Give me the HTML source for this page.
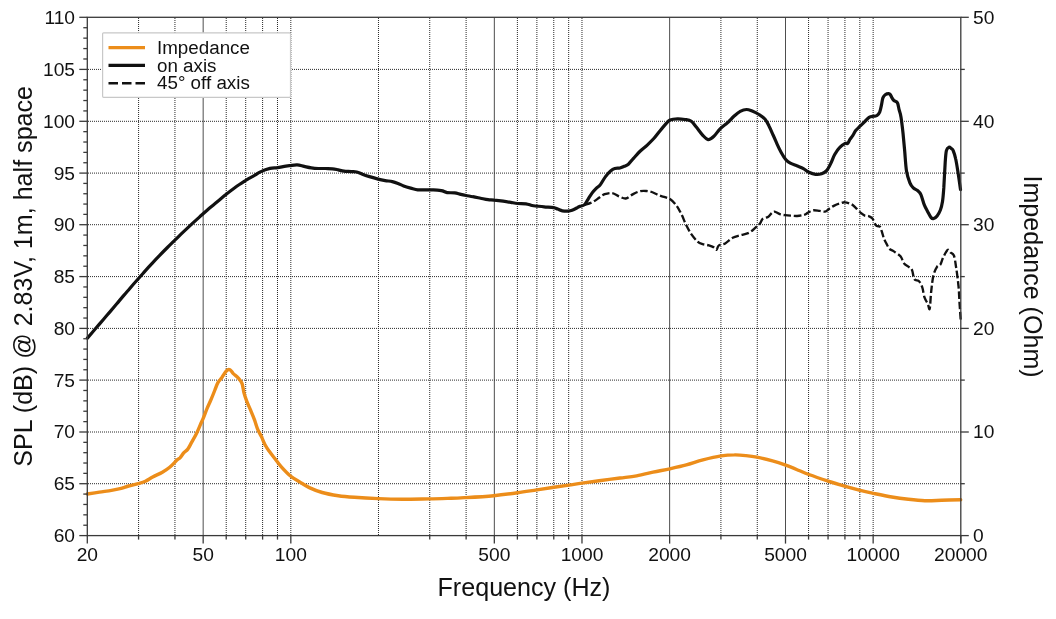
<!DOCTYPE html>
<html><head><meta charset="utf-8"><title>Frequency response</title>
<style>html,body{margin:0;padding:0;background:#fff;}svg{display:block;will-change:transform;}</style>
</head><body>
<svg width="1056" height="619" viewBox="0 0 1056 619" font-family='"Liberation Sans", Arial, Helvetica, sans-serif' fill="#111"><rect width="1056" height="619" fill="#fff"/><g stroke="#2a2a2a" stroke-width="1" stroke-dasharray="1 1"><line x1="138.57" y1="18" x2="138.57" y2="535.60"/><line x1="174.95" y1="18" x2="174.95" y2="535.60"/><line x1="203.17" y1="17.30" x2="203.17" y2="535.60" stroke="#4e4e4e" stroke-dasharray="none"/><line x1="226.22" y1="18" x2="226.22" y2="535.60"/><line x1="245.71" y1="18" x2="245.71" y2="535.60"/><line x1="262.60" y1="18" x2="262.60" y2="535.60"/><line x1="277.49" y1="18" x2="277.49" y2="535.60"/><line x1="290.82" y1="18" x2="290.82" y2="535.60"/><line x1="378.47" y1="18" x2="378.47" y2="535.60"/><line x1="429.74" y1="18" x2="429.74" y2="535.60"/><line x1="466.12" y1="18" x2="466.12" y2="535.60"/><line x1="494.33" y1="17.30" x2="494.33" y2="535.60" stroke="#4e4e4e" stroke-dasharray="none"/><line x1="517.39" y1="18" x2="517.39" y2="535.60"/><line x1="536.88" y1="18" x2="536.88" y2="535.60"/><line x1="553.77" y1="18" x2="553.77" y2="535.60"/><line x1="568.66" y1="18" x2="568.66" y2="535.60"/><line x1="581.98" y1="18" x2="581.98" y2="535.60"/><line x1="669.63" y1="17.30" x2="669.63" y2="535.60" stroke="#4e4e4e" stroke-dasharray="none"/><line x1="720.91" y1="18" x2="720.91" y2="535.60"/><line x1="757.28" y1="18" x2="757.28" y2="535.60"/><line x1="785.50" y1="17.30" x2="785.50" y2="535.60" stroke="#4e4e4e" stroke-dasharray="none"/><line x1="808.56" y1="18" x2="808.56" y2="535.60"/><line x1="828.05" y1="18" x2="828.05" y2="535.60"/><line x1="844.93" y1="18" x2="844.93" y2="535.60"/><line x1="859.83" y1="18" x2="859.83" y2="535.60"/><line x1="873.15" y1="18" x2="873.15" y2="535.60"/></g><g stroke="#2a2a2a" stroke-width="1" stroke-dasharray="1 1"><line x1="88" y1="483.70" x2="960.80" y2="483.70"/><line x1="88" y1="432.00" x2="960.80" y2="432.00"/><line x1="88" y1="380.10" x2="960.80" y2="380.10"/><line x1="88" y1="328.40" x2="960.80" y2="328.40"/><line x1="88" y1="276.60" x2="960.80" y2="276.60"/><line x1="88" y1="224.70" x2="960.80" y2="224.70"/><line x1="88" y1="173.10" x2="960.80" y2="173.10"/><line x1="88" y1="121.30" x2="960.80" y2="121.30"/><line x1="88" y1="69.40" x2="960.80" y2="69.40"/></g><path d="M87.3 494.0 C89.3 493.7 95.4 492.7 99.4 492.1 C103.4 491.5 107.9 491.0 111.5 490.4 C115.1 489.8 118.4 489.1 121.2 488.4 C124.0 487.7 125.7 486.8 128.5 486.0 C131.3 485.2 135.4 484.4 138.2 483.6 C141.0 482.8 143.0 482.3 145.4 481.2 C147.8 480.1 149.9 478.5 152.7 477.0 C155.5 475.5 159.6 473.8 162.4 472.2 C165.2 470.6 167.3 469.3 169.7 467.3 C172.1 465.3 175.2 461.7 176.9 460.1 C178.6 458.5 178.8 459.1 180.0 457.9 C181.2 456.6 182.6 454.1 183.9 452.6 C185.2 451.1 186.5 450.8 187.8 449.1 C189.1 447.4 190.2 445.0 191.6 442.4 C193.0 439.8 195.1 436.5 196.5 433.6 C197.9 430.7 199.2 427.5 200.3 424.9 C201.4 422.3 202.2 420.9 203.3 418.1 C204.4 415.4 205.8 411.5 207.1 408.4 C208.4 405.3 209.7 402.8 211.0 399.7 C212.3 396.6 213.8 392.8 214.9 390.0 C216.0 387.2 216.7 384.9 217.8 382.9 C218.9 380.9 220.2 379.8 221.7 377.8 C223.1 375.8 225.1 372.1 226.5 370.7 C227.9 369.3 228.9 369.2 230.0 369.7 C231.1 370.2 232.0 372.2 233.3 373.6 C234.7 375.0 236.7 376.2 238.1 377.8 C239.5 379.4 241.0 380.8 242.0 383.3 C243.0 385.8 243.2 389.8 244.0 392.9 C244.8 396.0 245.8 398.8 246.9 401.7 C248.0 404.6 249.4 407.3 250.7 410.4 C252.0 413.5 253.5 417.0 254.6 420.1 C255.7 423.2 256.4 426.1 257.5 428.8 C258.6 431.6 260.1 433.9 261.4 436.6 C262.7 439.4 264.0 442.9 265.3 445.3 C266.6 447.7 267.5 448.9 269.1 451.1 C270.7 453.4 273.0 456.2 275.0 458.8 C277.0 461.4 278.5 463.7 281.1 466.6 C283.7 469.5 287.7 473.8 290.8 476.3 C293.9 478.9 296.6 480.0 299.7 481.9 C302.8 483.8 305.6 485.8 309.3 487.6 C313.1 489.4 317.4 491.1 322.2 492.5 C327.0 493.9 332.9 494.9 338.3 495.7 C343.7 496.5 347.7 496.8 354.4 497.3 C361.1 497.8 370.4 498.3 378.5 498.6 C386.6 498.9 394.2 499.1 402.7 499.2 C411.2 499.2 421.3 499.0 429.4 498.9 C437.4 498.8 444.9 498.5 451.0 498.3 C457.1 498.1 458.7 498.0 465.8 497.6 C472.9 497.2 485.2 496.5 493.8 495.7 C502.4 494.9 510.4 493.8 517.6 492.8 C524.8 491.8 530.9 490.8 537.0 489.9 C543.1 489.0 548.7 488.1 554.0 487.3 C559.3 486.5 564.1 485.8 568.8 485.1 C573.5 484.4 577.0 483.8 582.0 483.1 C587.0 482.4 592.8 481.7 599.1 480.8 C605.4 479.9 613.8 478.8 620.0 478.0 C626.2 477.2 631.1 476.8 636.6 475.8 C642.1 474.8 647.6 473.4 653.1 472.2 C658.6 471.0 664.2 470.0 669.7 468.8 C675.2 467.6 680.8 466.4 686.3 464.9 C691.8 463.4 697.1 461.4 702.9 459.9 C708.7 458.4 715.9 456.7 721.1 455.9 C726.4 455.1 730.2 454.9 734.4 454.9 C738.5 454.8 742.2 455.2 746.0 455.6 C749.8 456.0 752.5 456.3 756.9 457.2 C761.3 458.1 767.7 459.6 772.5 460.9 C777.3 462.2 781.3 463.6 785.7 465.2 C790.1 466.8 795.1 468.9 799.0 470.5 C802.9 472.1 804.0 472.7 808.9 474.5 C813.8 476.3 822.1 479.1 828.2 481.1 C834.3 483.1 840.0 484.8 845.4 486.4 C850.8 487.9 855.6 489.2 860.3 490.4 C865.0 491.6 868.4 492.3 873.6 493.4 C878.9 494.5 886.0 496.0 891.8 497.0 C897.6 498.0 902.9 498.7 908.4 499.3 C913.9 499.9 919.4 500.5 924.9 500.7 C930.4 500.9 935.5 500.5 941.5 500.3 C947.5 500.1 957.5 499.8 960.7 499.7" fill="none" stroke="#ec8d1a" stroke-width="3.4" stroke-linejoin="round" stroke-linecap="round"/><path d="M584.3 204.9 C585.6 204.5 589.6 203.5 592.0 202.4 C594.4 201.3 596.6 199.5 598.7 198.1 C600.8 196.7 602.4 195.0 604.7 194.2 C607.0 193.4 609.9 192.7 612.3 193.1 C614.7 193.5 616.9 195.5 619.1 196.4 C621.4 197.3 623.5 198.8 625.8 198.5 C628.0 198.2 630.3 195.6 632.6 194.4 C634.9 193.2 637.1 192.0 639.4 191.4 C641.7 190.8 643.9 190.8 646.2 191.0 C648.5 191.2 650.8 191.7 653.0 192.5 C655.2 193.3 657.7 194.8 659.7 195.6 C661.7 196.4 663.3 196.6 665.0 197.2 C666.7 197.8 668.1 197.7 670.0 199.0 C671.9 200.3 674.4 202.8 676.3 205.3 C678.2 207.8 679.6 210.7 681.3 214.0 C683.0 217.3 684.6 222.0 686.3 225.3 C688.0 228.7 689.4 231.4 691.3 234.1 C693.2 236.8 695.7 239.9 697.6 241.6 C699.5 243.3 700.7 243.5 702.6 244.1 C704.5 244.7 707.0 244.8 708.9 245.4 C710.8 246.0 712.6 246.7 713.9 247.4 C715.1 248.2 715.6 250.2 716.4 249.9 C717.2 249.6 717.4 246.5 718.9 245.4 C720.4 244.3 722.9 244.7 725.2 243.4 C727.5 242.1 730.2 239.2 732.7 237.8 C735.2 236.5 737.5 236.1 740.2 235.3 C742.9 234.5 746.5 234.1 749.0 232.8 C751.5 231.6 753.4 229.4 755.2 227.8 C757.0 226.2 758.8 225.0 760.0 223.5 C761.2 222.0 761.4 220.0 762.7 218.9 C764.0 217.8 766.5 217.9 768.0 216.9 C769.5 215.9 770.8 213.8 771.9 212.9 C773.0 212.0 773.3 211.4 774.6 211.6 C775.9 211.8 778.1 213.6 779.9 214.2 C781.7 214.8 783.4 215.0 785.2 215.2 C787.0 215.4 788.5 215.5 790.5 215.6 C792.5 215.7 794.9 216.1 797.1 216.0 C799.3 215.9 802.0 215.4 803.8 214.9 C805.6 214.4 806.2 213.7 807.7 212.9 C809.2 212.1 811.0 210.6 813.0 210.3 C815.0 210.0 817.7 210.7 819.7 210.9 C821.7 211.1 823.5 211.9 825.0 211.6 C826.5 211.3 827.5 209.9 829.0 208.9 C830.5 207.9 832.5 206.5 834.3 205.6 C836.1 204.7 837.8 204.1 839.6 203.6 C841.4 203.1 842.9 202.2 844.9 202.3 C846.9 202.4 849.7 203.4 851.5 204.3 C853.3 205.2 854.0 206.2 855.5 207.6 C857.0 209.0 859.2 211.6 860.8 212.9 C862.3 214.2 863.5 215.1 864.8 215.6 C866.1 216.1 867.5 215.6 868.8 216.2 C870.1 216.8 871.5 217.3 872.7 218.9 C873.9 220.5 874.8 224.2 876.0 225.5 C877.2 226.8 879.0 225.7 880.0 226.8 C881.0 227.9 881.3 230.1 882.0 232.1 C882.7 234.1 883.2 236.8 884.0 238.8 C884.8 240.8 885.8 242.4 886.7 244.1 C887.6 245.8 888.1 247.5 889.3 248.7 C890.5 249.9 892.0 250.1 893.9 251.4 C895.8 252.7 898.8 254.3 900.5 256.3 C902.2 258.3 902.7 261.6 904.1 263.4 C905.5 265.1 907.4 265.7 908.7 266.8 C910.0 267.9 911.2 268.1 912.1 270.2 C913.0 272.3 913.2 277.4 914.3 279.2 C915.4 281.0 917.5 279.7 918.8 281.0 C920.1 282.3 921.2 284.4 922.2 287.1 C923.2 289.8 923.5 294.5 924.5 297.3 C925.5 300.1 927.0 302.2 927.9 304.1 C928.8 306.0 929.1 310.9 929.7 308.6 C930.3 306.3 930.6 296.1 931.3 290.5 C931.9 284.9 932.6 278.6 933.6 274.7 C934.6 270.8 935.9 268.5 937.0 266.8 C938.1 265.1 939.5 265.8 940.4 264.5 C941.3 263.2 941.7 260.9 942.6 258.8 C943.5 256.7 945.0 253.6 946.0 252.1 C947.0 250.6 947.5 249.7 948.3 249.8 C949.0 249.9 949.6 251.6 950.5 252.5 C951.4 253.4 952.9 252.9 953.9 255.5 C954.9 258.1 955.4 262.8 956.2 267.9 C957.0 273.0 957.9 280.0 958.5 286.0 C959.1 292.0 959.2 298.4 959.6 304.1 C960.0 309.8 960.5 317.4 960.7 320.0" fill="none" stroke="#111" stroke-width="2.35" stroke-dasharray="7.5 2.8" stroke-linejoin="round"/><path d="M87.4 338.1 C88.7 336.6 92.7 331.9 95.4 328.8 C98.1 325.7 100.7 322.6 103.4 319.5 C106.1 316.4 108.7 313.2 111.4 310.1 C114.1 307.0 116.7 303.8 119.4 300.6 C122.1 297.5 124.7 294.3 127.4 291.2 C130.1 288.1 132.7 285.0 135.4 282.0 C138.1 279.0 140.7 276.0 143.4 273.0 C146.1 270.0 148.7 267.1 151.4 264.2 C154.1 261.3 156.7 258.5 159.4 255.7 C162.1 252.9 164.7 250.2 167.4 247.5 C170.1 244.8 172.7 242.2 175.4 239.6 C178.1 237.0 180.7 234.4 183.4 231.9 C186.1 229.4 188.7 226.9 191.4 224.4 C194.1 221.9 196.7 219.5 199.4 217.1 C202.1 214.7 204.7 212.3 207.4 210.0 C210.1 207.7 212.7 205.4 215.4 203.2 C218.1 201.0 220.7 198.8 223.4 196.6 C226.1 194.4 228.7 192.3 231.4 190.3 C234.1 188.3 236.7 186.3 239.4 184.5 C242.1 182.7 245.6 180.4 247.4 179.3 C249.2 178.2 248.9 178.4 250.0 177.8 C251.1 177.2 252.3 176.6 254.1 175.6 C255.9 174.6 258.2 172.8 260.9 171.6 C263.5 170.4 267.2 169.1 270.0 168.4 C272.8 167.7 275.0 168.0 277.6 167.6 C280.2 167.2 283.8 166.4 285.9 166.1 C288.0 165.8 288.1 165.8 290.0 165.6 C291.9 165.4 294.7 164.8 297.1 164.9 C299.5 165.0 301.8 165.9 304.2 166.4 C306.6 166.9 308.9 167.5 311.3 167.8 C313.7 168.2 316.0 168.4 318.4 168.5 C320.8 168.6 323.1 168.4 325.5 168.5 C327.9 168.6 330.5 168.6 332.6 168.8 C334.7 169.0 336.4 169.5 338.3 169.9 C340.2 170.3 341.9 170.8 344.0 171.1 C346.1 171.4 349.0 171.4 351.1 171.6 C353.2 171.8 354.9 171.6 356.8 172.0 C358.7 172.4 360.3 173.4 362.4 174.2 C364.5 175.0 366.9 175.8 369.5 176.6 C372.1 177.4 375.5 178.4 378.1 179.1 C380.7 179.8 382.8 180.2 385.2 180.6 C387.6 181.0 390.2 181.1 392.3 181.6 C394.4 182.1 396.1 182.7 398.0 183.4 C399.9 184.1 401.5 185.2 403.6 186.0 C405.7 186.8 408.3 187.5 410.7 188.1 C413.1 188.7 415.4 189.5 417.8 189.8 C420.2 190.1 422.5 189.8 424.9 189.8 C427.3 189.8 429.6 189.8 432.0 189.9 C434.4 190.0 437.7 190.1 439.5 190.3 C441.3 190.5 441.3 190.5 442.6 190.9 C443.9 191.3 445.1 192.3 447.1 192.6 C449.1 192.9 452.4 192.6 454.7 192.9 C457.0 193.2 458.9 194.0 460.8 194.4 C462.7 194.8 464.1 195.1 466.1 195.5 C468.1 195.9 470.5 196.2 472.9 196.7 C475.3 197.1 478.0 197.7 480.5 198.2 C483.0 198.7 485.7 199.4 488.0 199.7 C490.3 200.0 491.6 199.9 494.1 200.2 C496.6 200.4 500.4 200.8 503.2 201.2 C506.0 201.6 508.4 202.0 510.8 202.4 C513.2 202.8 515.1 203.3 517.6 203.5 C520.1 203.7 523.5 203.5 525.9 203.8 C528.3 204.1 530.2 205.1 532.0 205.5 C533.8 205.9 534.8 205.9 536.8 206.1 C538.8 206.3 541.3 206.6 544.1 206.8 C546.9 207.1 551.3 207.2 553.6 207.6 C555.9 208.0 556.2 208.6 557.7 209.1 C559.2 209.6 560.5 210.5 562.3 210.8 C564.1 211.1 566.7 211.2 568.3 211.1 C569.9 211.0 570.6 210.9 572.1 210.3 C573.6 209.7 576.1 208.3 577.4 207.6 C578.7 206.9 579.0 206.8 580.1 206.3 C581.2 205.9 583.0 206.0 584.3 204.9 C585.6 203.8 586.4 201.8 587.7 199.8 C589.0 197.8 590.6 195.0 592.0 193.1 C593.4 191.2 594.8 189.7 596.2 188.3 C597.6 186.9 598.9 186.6 600.4 184.6 C601.9 182.6 603.8 178.9 605.5 176.6 C607.2 174.3 609.1 172.3 610.6 171.0 C612.1 169.7 613.2 169.0 614.8 168.5 C616.3 168.0 618.3 168.4 619.9 168.0 C621.5 167.6 622.8 166.9 624.2 166.3 C625.6 165.7 626.9 165.5 628.4 164.2 C629.9 162.9 631.5 160.5 633.5 158.3 C635.5 156.1 638.0 153.2 640.3 151.0 C642.5 148.8 644.8 147.4 647.0 145.3 C649.2 143.2 651.7 140.8 653.8 138.5 C655.9 136.2 657.6 133.8 659.7 131.2 C661.8 128.6 664.8 125.0 666.5 123.1 C668.2 121.2 668.2 120.7 670.0 120.0 C671.8 119.3 675.0 118.9 677.5 118.8 C680.0 118.7 682.7 119.1 685.0 119.5 C687.3 119.9 689.4 120.0 691.3 121.3 C693.2 122.6 694.4 124.8 696.3 127.1 C698.2 129.4 700.6 133.0 702.6 135.1 C704.6 137.2 706.2 139.4 708.1 139.6 C710.0 139.8 711.9 138.1 713.9 136.3 C715.9 134.5 717.8 131.1 720.1 128.8 C722.4 126.5 725.4 124.7 727.7 122.6 C730.0 120.5 731.8 118.2 733.9 116.3 C736.0 114.4 738.1 112.4 740.2 111.3 C742.3 110.2 744.4 109.5 746.5 109.5 C748.6 109.5 750.6 110.5 752.7 111.3 C754.8 112.1 756.9 113.2 759.0 114.5 C761.1 115.8 763.4 117.2 765.1 119.2 C766.8 121.2 767.8 123.5 769.1 126.2 C770.5 128.9 771.9 132.3 773.2 135.3 C774.6 138.3 775.9 141.5 777.2 144.4 C778.5 147.3 779.8 150.0 781.2 152.5 C782.6 155.0 784.2 157.7 785.7 159.5 C787.2 161.3 788.3 162.1 790.3 163.2 C792.2 164.3 795.2 165.1 797.4 166.0 C799.6 166.9 801.5 167.5 803.4 168.6 C805.3 169.7 806.9 171.4 808.9 172.3 C810.9 173.2 813.4 174.1 815.5 174.3 C817.6 174.5 819.8 174.3 821.6 173.7 C823.5 173.1 825.1 172.3 826.6 170.6 C828.1 168.9 829.4 166.3 830.7 163.6 C832.1 160.9 833.2 157.2 834.7 154.5 C836.2 151.8 838.0 149.2 839.8 147.4 C841.5 145.6 843.9 144.1 845.2 143.4 C846.5 142.7 847.0 144.1 847.8 143.4 C848.6 142.7 849.0 140.8 849.9 139.4 C850.8 138.1 851.9 136.8 852.9 135.3 C853.9 133.8 854.7 131.8 855.9 130.3 C857.1 128.8 858.6 127.6 860.0 126.2 C861.4 124.8 863.0 123.4 864.5 121.9 C866.0 120.4 867.6 118.4 869.1 117.4 C870.6 116.5 872.3 116.5 873.6 116.2 C874.9 115.9 876.0 116.2 877.0 115.5 C878.0 114.8 878.9 113.9 879.7 112.1 C880.5 110.2 881.1 106.8 881.6 104.4 C882.1 102.0 882.3 99.5 882.9 97.9 C883.5 96.3 884.2 95.4 885.2 94.7 C886.2 94.0 887.8 93.7 888.7 93.7 C889.6 93.7 889.9 94.0 890.4 94.7 C890.9 95.4 891.4 96.9 892.0 97.9 C892.6 98.9 893.1 99.8 893.9 100.5 C894.6 101.2 895.9 101.3 896.5 101.8 C897.1 102.3 897.4 102.4 897.8 103.7 C898.2 105.0 898.7 107.9 899.1 109.6 C899.5 111.3 900.0 112.3 900.4 114.1 C900.8 115.9 901.1 117.3 901.5 120.5 C901.9 123.7 902.5 128.1 903.0 133.0 C903.5 137.9 904.0 143.7 904.6 150.0 C905.2 156.3 905.6 165.4 906.5 170.9 C907.4 176.4 908.8 180.0 909.9 182.8 C911.0 185.6 912.0 186.6 913.3 187.9 C914.6 189.2 916.2 189.4 917.5 190.5 C918.8 191.6 919.8 192.3 920.9 194.7 C922.0 197.1 923.2 202.1 924.3 204.9 C925.4 207.7 926.6 209.6 927.7 211.7 C928.8 213.8 930.1 216.5 931.1 217.6 C932.1 218.7 932.7 218.8 933.7 218.5 C934.7 218.2 936.0 217.3 937.1 215.9 C938.2 214.5 939.5 212.4 940.4 210.0 C941.3 207.6 941.9 205.2 942.5 201.5 C943.1 197.8 943.3 194.4 943.8 187.9 C944.2 181.4 944.8 168.6 945.2 162.4 C945.6 156.2 945.8 153.1 946.4 150.6 C947.0 148.1 948.1 147.5 948.9 147.2 C949.7 146.8 950.6 147.9 951.3 148.5 C952.0 149.1 952.5 148.8 953.2 150.6 C953.9 152.3 954.9 155.1 955.7 159.0 C956.6 162.9 957.5 169.2 958.3 174.3 C959.1 179.4 960.1 187.1 960.5 189.6" fill="none" stroke="#111" stroke-width="3.2" stroke-linejoin="round" stroke-linecap="round"/><rect x="102.6" y="32.8" width="187.9" height="64.5" rx="1" fill="#fff" stroke="#c8c8c8" stroke-width="1.2"/><line x1="108.5" y1="47.7" x2="145" y2="47.7" stroke="#ec8d1a" stroke-width="3.2"/><line x1="108.5" y1="65.4" x2="145" y2="65.4" stroke="#111" stroke-width="3.2"/><line x1="108.5" y1="83.2" x2="145" y2="83.2" stroke="#111" stroke-width="2.6" stroke-dasharray="9.5 4"/><g font-size="18.8" fill="#111"><text x="157" y="53.7">Impedance</text><text x="157" y="71.5">on axis</text><text x="157" y="89.2">45° off axis</text></g><rect x="87.30" y="17.30" width="873.50" height="518.30" fill="none" stroke="#3a3a3a" stroke-width="1.3"/><g stroke="#3a3a3a" stroke-width="1.3"><line x1="79.30" y1="535.60" x2="87.30" y2="535.60"/><line x1="83.30" y1="525.22" x2="87.30" y2="525.22"/><line x1="83.30" y1="514.84" x2="87.30" y2="514.84"/><line x1="83.30" y1="504.46" x2="87.30" y2="504.46"/><line x1="83.30" y1="494.08" x2="87.30" y2="494.08"/><line x1="79.30" y1="483.70" x2="87.30" y2="483.70"/><line x1="83.30" y1="473.36" x2="87.30" y2="473.36"/><line x1="83.30" y1="463.02" x2="87.30" y2="463.02"/><line x1="83.30" y1="452.68" x2="87.30" y2="452.68"/><line x1="83.30" y1="442.34" x2="87.30" y2="442.34"/><line x1="79.30" y1="432.00" x2="87.30" y2="432.00"/><line x1="83.30" y1="421.62" x2="87.30" y2="421.62"/><line x1="83.30" y1="411.24" x2="87.30" y2="411.24"/><line x1="83.30" y1="400.86" x2="87.30" y2="400.86"/><line x1="83.30" y1="390.48" x2="87.30" y2="390.48"/><line x1="79.30" y1="380.10" x2="87.30" y2="380.10"/><line x1="83.30" y1="369.76" x2="87.30" y2="369.76"/><line x1="83.30" y1="359.42" x2="87.30" y2="359.42"/><line x1="83.30" y1="349.08" x2="87.30" y2="349.08"/><line x1="83.30" y1="338.74" x2="87.30" y2="338.74"/><line x1="79.30" y1="328.40" x2="87.30" y2="328.40"/><line x1="83.30" y1="318.04" x2="87.30" y2="318.04"/><line x1="83.30" y1="307.68" x2="87.30" y2="307.68"/><line x1="83.30" y1="297.32" x2="87.30" y2="297.32"/><line x1="83.30" y1="286.96" x2="87.30" y2="286.96"/><line x1="79.30" y1="276.60" x2="87.30" y2="276.60"/><line x1="83.30" y1="266.22" x2="87.30" y2="266.22"/><line x1="83.30" y1="255.84" x2="87.30" y2="255.84"/><line x1="83.30" y1="245.46" x2="87.30" y2="245.46"/><line x1="83.30" y1="235.08" x2="87.30" y2="235.08"/><line x1="79.30" y1="224.70" x2="87.30" y2="224.70"/><line x1="83.30" y1="214.38" x2="87.30" y2="214.38"/><line x1="83.30" y1="204.06" x2="87.30" y2="204.06"/><line x1="83.30" y1="193.74" x2="87.30" y2="193.74"/><line x1="83.30" y1="183.42" x2="87.30" y2="183.42"/><line x1="79.30" y1="173.10" x2="87.30" y2="173.10"/><line x1="83.30" y1="162.74" x2="87.30" y2="162.74"/><line x1="83.30" y1="152.38" x2="87.30" y2="152.38"/><line x1="83.30" y1="142.02" x2="87.30" y2="142.02"/><line x1="83.30" y1="131.66" x2="87.30" y2="131.66"/><line x1="79.30" y1="121.30" x2="87.30" y2="121.30"/><line x1="83.30" y1="110.92" x2="87.30" y2="110.92"/><line x1="83.30" y1="100.54" x2="87.30" y2="100.54"/><line x1="83.30" y1="90.16" x2="87.30" y2="90.16"/><line x1="83.30" y1="79.78" x2="87.30" y2="79.78"/><line x1="79.30" y1="69.40" x2="87.30" y2="69.40"/><line x1="83.30" y1="58.98" x2="87.30" y2="58.98"/><line x1="83.30" y1="48.56" x2="87.30" y2="48.56"/><line x1="83.30" y1="38.14" x2="87.30" y2="38.14"/><line x1="83.30" y1="27.72" x2="87.30" y2="27.72"/><line x1="79.30" y1="17.30" x2="87.30" y2="17.30"/><line x1="960.80" y1="535.60" x2="968.80" y2="535.60"/><line x1="960.80" y1="483.70" x2="964.80" y2="483.70"/><line x1="960.80" y1="432.00" x2="968.80" y2="432.00"/><line x1="960.80" y1="380.10" x2="964.80" y2="380.10"/><line x1="960.80" y1="328.40" x2="968.80" y2="328.40"/><line x1="960.80" y1="276.60" x2="964.80" y2="276.60"/><line x1="960.80" y1="224.70" x2="968.80" y2="224.70"/><line x1="960.80" y1="173.10" x2="964.80" y2="173.10"/><line x1="960.80" y1="121.30" x2="968.80" y2="121.30"/><line x1="960.80" y1="69.40" x2="964.80" y2="69.40"/><line x1="960.80" y1="17.30" x2="968.80" y2="17.30"/><line x1="87.30" y1="535.60" x2="87.30" y2="543.60"/><line x1="138.57" y1="535.60" x2="138.57" y2="539.60"/><line x1="174.95" y1="535.60" x2="174.95" y2="539.60"/><line x1="203.17" y1="535.60" x2="203.17" y2="543.60"/><line x1="226.22" y1="535.60" x2="226.22" y2="539.60"/><line x1="245.71" y1="535.60" x2="245.71" y2="539.60"/><line x1="262.60" y1="535.60" x2="262.60" y2="539.60"/><line x1="277.49" y1="535.60" x2="277.49" y2="539.60"/><line x1="290.82" y1="535.60" x2="290.82" y2="543.60"/><line x1="429.74" y1="535.60" x2="429.74" y2="539.60"/><line x1="466.12" y1="535.60" x2="466.12" y2="539.60"/><line x1="494.33" y1="535.60" x2="494.33" y2="543.60"/><line x1="517.39" y1="535.60" x2="517.39" y2="539.60"/><line x1="536.88" y1="535.60" x2="536.88" y2="539.60"/><line x1="553.77" y1="535.60" x2="553.77" y2="539.60"/><line x1="568.66" y1="535.60" x2="568.66" y2="539.60"/><line x1="581.98" y1="535.60" x2="581.98" y2="543.60"/><line x1="669.63" y1="535.60" x2="669.63" y2="543.60"/><line x1="720.91" y1="535.60" x2="720.91" y2="539.60"/><line x1="757.28" y1="535.60" x2="757.28" y2="539.60"/><line x1="785.50" y1="535.60" x2="785.50" y2="543.60"/><line x1="808.56" y1="535.60" x2="808.56" y2="539.60"/><line x1="828.05" y1="535.60" x2="828.05" y2="539.60"/><line x1="844.93" y1="535.60" x2="844.93" y2="539.60"/><line x1="859.83" y1="535.60" x2="859.83" y2="539.60"/><line x1="873.15" y1="535.60" x2="873.15" y2="543.60"/><line x1="960.80" y1="535.60" x2="960.80" y2="543.60"/><line x1="960.80" y1="535.60" x2="960.80" y2="543.60"/></g><g font-size="19.2" fill="#111"><text x="75" y="542.00" text-anchor="end">60</text><text x="75" y="490.10" text-anchor="end">65</text><text x="75" y="438.40" text-anchor="end">70</text><text x="75" y="386.50" text-anchor="end">75</text><text x="75" y="334.80" text-anchor="end">80</text><text x="75" y="283.00" text-anchor="end">85</text><text x="75" y="231.10" text-anchor="end">90</text><text x="75" y="179.50" text-anchor="end">95</text><text x="75" y="127.70" text-anchor="end">100</text><text x="75" y="75.80" text-anchor="end">105</text><text x="75" y="23.70" text-anchor="end">110</text><text x="973" y="542.00">0</text><text x="973" y="438.40">10</text><text x="973" y="334.80">20</text><text x="973" y="231.10">30</text><text x="973" y="127.70">40</text><text x="973" y="23.70">50</text><text x="87.30" y="561" text-anchor="middle">20</text><text x="203.17" y="561" text-anchor="middle">50</text><text x="290.82" y="561" text-anchor="middle">100</text><text x="494.33" y="561" text-anchor="middle">500</text><text x="581.98" y="561" text-anchor="middle">1000</text><text x="669.63" y="561" text-anchor="middle">2000</text><text x="785.50" y="561" text-anchor="middle">5000</text><text x="873.15" y="561" text-anchor="middle">10000</text><text x="960.80" y="561" text-anchor="middle">20000</text></g><text x="524" y="596" text-anchor="middle" font-size="25.1">Frequency (Hz)</text><text transform="translate(32 276.3) rotate(-90)" text-anchor="middle" font-size="25.1">SPL (dB) @ 2.83V, 1m, half space</text><text transform="translate(1024 276.6) rotate(90)" text-anchor="middle" font-size="25.1">Impedance (Ohm)</text></svg>
</body></html>
